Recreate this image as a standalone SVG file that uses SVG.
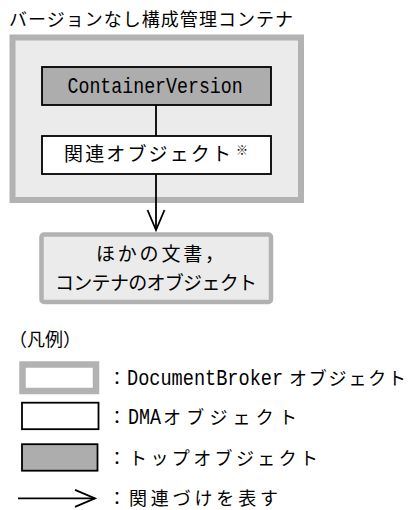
<svg xmlns="http://www.w3.org/2000/svg" width="410" height="510" viewBox="0 0 410 510">
<defs>
<style>
.jp{font-family:"Noto Sans CJK JP","Noto Sans",sans-serif;fill:#000;}
.mono{font-family:"Liberation Mono","DejaVu Sans Mono",monospace;fill:#000;font-size:22px;}
.db{fill:#ebebeb;stroke:#b2b2b2;}
.dma{fill:#fff;stroke:#000;stroke-width:1.8;}
.top{fill:#adadad;stroke:#000;stroke-width:1.8;}
.conn{stroke:#000;stroke-width:1.8;fill:none;}
</style>
<marker id="arr" markerUnits="userSpaceOnUse" viewBox="-22 -11 24 22" refX="0" refY="0" markerWidth="24" markerHeight="22" orient="auto">
<path d="M-20,-8.5 L0,0 L-20,8.5" fill="none" stroke="#000" stroke-width="1.8"/>
</marker>
</defs>
<rect width="410" height="510" fill="#fff"/>
<text class="jp" x="9" y="26" font-size="18" textLength="284" lengthAdjust="spacing">バージョンなし構成管理コンテナ</text>
<g id="container">
<rect class="db" x="12.5" y="37.5" width="288.5" height="162.5" stroke-width="6"/>
</g>
<g id="containerVersion">
<rect class="top" x="42" y="67" width="229" height="38"/>
<text class="mono" transform="translate(67.5,93) scale(0.83,1)" x="0" y="0">ContainerVersion</text>
</g>
<g id="relatedObject">
<rect class="dma" x="42" y="136" width="229" height="38"/>
<text class="jp" x="64" y="161" font-size="19" textLength="167" lengthAdjust="spacing">関連オブジェクト</text>
<text class="jp" x="236" y="154.5" font-size="12">※</text>
</g>
<g id="otherObjects">
<rect class="db" x="41.5" y="234.5" width="229.5" height="67.5" rx="2.5" stroke-width="4.5"/>
<text class="jp" x="96" y="261" font-size="19" textLength="128" lengthAdjust="spacing">ほかの文書，</text>
<text class="jp" x="55" y="290" font-size="19" textLength="202" lengthAdjust="spacing">コンテナのオブジェクト</text>
</g>
<g id="connectors">
<line class="conn" x1="156" y1="105" x2="156" y2="136"/>
<line class="conn" x1="156" y1="174" x2="156" y2="230" marker-end="url(#arr)"/>
</g>
<g id="legend">
<text class="jp" x="9" y="346" font-size="18">（凡例）</text>
<rect class="db" x="22.5" y="364.5" width="73.5" height="26.5" stroke-width="6.5" style="fill:#fff"/>
<text class="jp" x="108" y="385" font-size="18">：</text>
<text class="mono" transform="translate(127,385) scale(0.845,1)" x="0" y="0">DocumentBroker</text>
<text class="jp" x="289" y="385" font-size="18" textLength="117" lengthAdjust="spacing">オブジェクト</text>
<rect class="dma" x="22" y="402.7" width="76.5" height="26.5"/>
<text class="jp" x="108" y="423.5" font-size="18">：</text>
<text class="mono" transform="translate(128,423.5) scale(0.835,1)" x="0" y="0">DMA</text>
<text class="jp" x="163" y="423.5" font-size="18" textLength="134" lengthAdjust="spacing">オブジェクト</text>
<rect class="top" x="22" y="444.2" width="75.5" height="26.5"/>
<text class="jp" x="108" y="464.5" font-size="18">：</text>
<text class="jp" x="129" y="464.5" font-size="18" textLength="189" lengthAdjust="spacing">トップオブジェクト</text>
<line class="conn" x1="18" y1="498.3" x2="95" y2="498.3" marker-end="url(#arr)"/>
<text class="jp" x="108" y="505" font-size="18">：</text>
<text class="jp" x="129" y="505" font-size="18" textLength="149" lengthAdjust="spacing">関連づけを表す</text>
</g>
</svg>
